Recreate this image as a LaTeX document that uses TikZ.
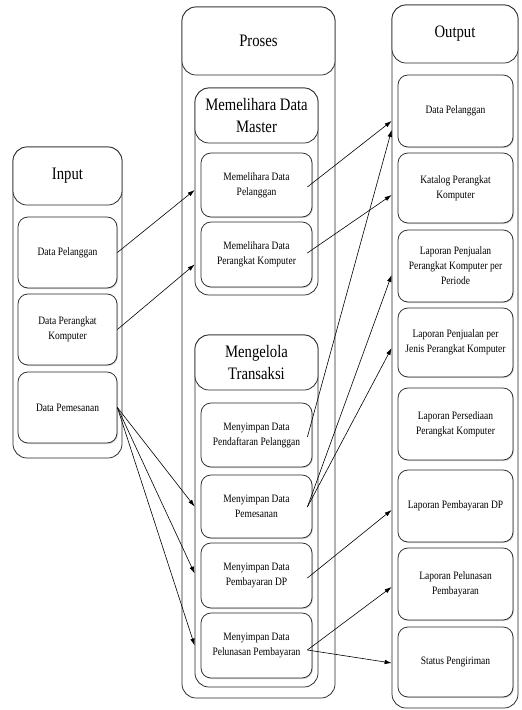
\documentclass[tikz,border=0pt]{standalone}
\usepackage{fontspec}
\setmainfont[FakeStretch=0.84]{Liberation Serif}
\usetikzlibrary{arrows.meta,calc,shadows}
\begin{document}
\begin{tikzpicture}[x=1pt,y=-1pt,
  base/.style={draw=black!85, line width=0.75pt, fill=white, inner sep=1pt},
  cont/.style={base, rounded corners=14pt},
  box/.style={base, rounded corners=10pt, align=center,
    font=\fontsize{11.3}{15}\selectfont,
    drop shadow={shadow xshift=1pt,shadow yshift=-1pt,opacity=0.35}},
  ttl/.style={base, rounded corners=14pt, align=center,
    font=\fontsize{17.5}{22}\selectfont},
  arr/.style={-{Latex[length=7pt,width=4.5pt]}, line width=0.6pt}
]
\useasboundingbox (0,0) rectangle (522,710);
% ---------- Input ----------
\node[cont, minimum width=109pt, minimum height=311pt] (inc) at (67.5,302.5) {};
\node[ttl, minimum width=109pt, minimum height=58pt] (int) at (67.5,176) {Input};
\node[box, minimum width=99pt, minimum height=71pt] (ip1) at (67.5,252.5) {Data Pelanggan};
\node[box, minimum width=99pt, minimum height=71pt] (ip2) at (67.5,329.5) {Data Perangkat\\Komputer};
\node[box, minimum width=99pt, minimum height=71pt] (ip3) at (67.5,407.5) {Data Pemesanan};
% ---------- Proses ----------
\node[cont, minimum width=153pt, minimum height=691pt] (prc) at (258.5,352.5) {};
\node[ttl, minimum width=153pt, minimum height=68pt] (prt) at (258.5,41) {Proses};
\node[cont, minimum width=123pt, minimum height=207pt] (sub1) at (256.5,191.5) {};
\node[ttl, minimum width=123pt, minimum height=55pt] (sub1t) at (256.5,115.5) {Memelihara Data\\Master};
\node[box, minimum width=111pt, minimum height=64pt] (mp1) at (256.5,185) {Memelihara Data\\Pelanggan};
\node[box, minimum width=111pt, minimum height=65pt] (mp2) at (256.5,254.5) {Memelihara Data\\Perangkat Komputer};
\node[cont, minimum width=123pt, minimum height=352pt] (sub2) at (256.5,511) {};
\node[ttl, minimum width=123pt, minimum height=55pt] (sub2t) at (256.5,362.5) {Mengelola\\Transaksi};
\node[box, minimum width=111pt, minimum height=64pt] (mt1) at (256.5,435) {Menyimpan Data\\Pendaftaran Pelanggan};
\node[box, minimum width=111pt, minimum height=63pt] (mt2) at (256.5,506.5) {Menyimpan Data\\Pemesanan};
\node[box, minimum width=111pt, minimum height=65pt] (mt3) at (256.5,575.5) {Menyimpan Data\\Pembayaran DP};
\node[box, minimum width=111pt, minimum height=65pt] (mt4) at (256.5,645.5) {Menyimpan Data\\Pelunasan Pembayaran};
% ---------- Output ----------
\node[cont, minimum width=126pt, minimum height=703pt] (outc) at (455,356.5) {};
\node[ttl, minimum width=126pt, minimum height=58pt] (outt) at (455,34) {Output};
\node[box, minimum width=115pt, minimum height=72pt] (op1) at (455.5,111) {Data Pelanggan};
\node[box, minimum width=115pt, minimum height=70pt] (op2) at (455.5,188) {Katalog Perangkat\\Komputer};
\node[box, minimum width=115pt, minimum height=72pt] (op3) at (455.5,266) {Laporan Penjualan\\Perangkat Komputer per\\Periode};
\node[box, minimum width=115pt, minimum height=69pt] (op4) at (455.5,342.5) {Laporan Penjualan per\\Jenis Perangkat Komputer};
\node[box, minimum width=115pt, minimum height=72pt] (op5) at (455.5,424) {Laporan Persediaan\\Perangkat Komputer};
\node[box, minimum width=115pt, minimum height=72pt] (op6) at (455.5,506) {Laporan Pembayaran DP};
\node[box, minimum width=115pt, minimum height=72pt] (op7) at (455.5,584) {Laporan Pelunasan\\Pembayaran};
\node[box, minimum width=115pt, minimum height=70pt] (op8) at (455.5,662) {Status Pengiriman};
% ---------- Arrows: input -> proses ----------
\draw[arr] (ip1.east) -- ($(sub1.west |- mp1)+(0,5)$);
\draw[arr] (ip2.east) -- ($(sub1.west |- mp2)+(0,10)$);
\draw[arr] (ip3.east) -- (sub2.west |- mt2);
\draw[arr] (ip3.east) -- ($(sub2.west |- mt3)+(0,-2)$);
\draw[arr] (ip3.east) -- (sub2.west |- mt4);
% ---------- Arrows: proses -> output ----------
\draw[arr] ($(mp1.east)+(-5,2)$) -- ($(outc.west |- op1)+(0,10)$);
\draw[arr] ($(mt1.east)+(-5,2)$) -- ($(outc.west |- op1)+(0,19)$);
\draw[arr] ($(mp2.east)+(-5,-1.5)$) -- ($(outc.west |- op2)+(0,7)$);
\draw[arr] ($(mt2.east)+(-5,0.5)$) -- ($(outc.west |- op3)+(0,9)$);
\draw[arr] ($(mt2.east)+(-5,0.5)$) -- ($(outc.west |- op4)+(0,5.5)$);
\draw[arr] ($(mt3.east)+(-5,2.5)$) -- ($(outc.west |- op6)+(0,4)$);
\draw[arr] ($(mt4.east)+(-5,4.5)$) -- ($(outc.west |- op7)+(0,3)$);
\draw[arr] ($(mt4.east)+(-5,4.5)$) -- ($(outc.west |- op8)+(0,1)$);
\end{tikzpicture}
\end{document}
